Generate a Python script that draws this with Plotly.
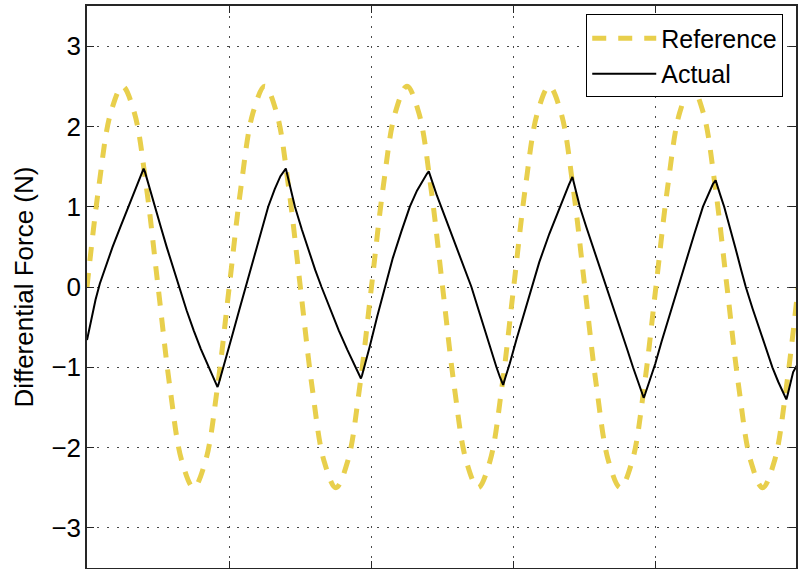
import plotly.graph_objects as go

# ---------------- data ----------------
# Reference signal: time samples (s) and force (N)
ref_time = [
    0.000, 0.083, 0.167, 0.250, 0.333, 0.417, 0.500, 0.583, 0.667, 0.750, 0.833, 0.917,
    1.000, 1.083, 1.167, 1.250, 1.333, 1.417, 1.500, 1.583, 1.667, 1.750, 1.833, 1.917,
    2.000, 2.083, 2.167, 2.250, 2.333, 2.417, 2.500, 2.583, 2.667, 2.750, 2.833, 2.917,
    3.000, 3.083, 3.167, 3.250, 3.333, 3.417, 3.500, 3.583, 3.667, 3.750, 3.833, 3.917,
    4.000, 4.083, 4.167, 4.250, 4.333, 4.417, 4.500, 4.583, 4.667, 4.750, 4.833, 4.917,
    5.000,
]
ref_force = [
    0.00, 1.25, 2.17, 2.50, 2.17, 1.25, 0.00, -1.25, -2.17, -2.50, -2.17, -1.25,
    0.00, 1.25, 2.17, 2.50, 2.17, 1.25, 0.00, -1.25, -2.17, -2.50, -2.17, -1.25,
    0.00, 1.25, 2.17, 2.50, 2.17, 1.25, 0.00, -1.25, -2.17, -2.50, -2.17, -1.25,
    0.00, 1.25, 2.17, 2.50, 2.17, 1.25, 0.00, -1.25, -2.17, -2.50, -2.17, -1.25,
    0.00, 1.25, 2.17, 2.50, 2.17, 1.25, 0.00, -1.25, -2.17, -2.50, -2.17, -1.25,
    0.00,
]

act_time = [
    # cycle 1
    0.000, 0.030, 0.060, 0.090, 0.130, 0.180, 0.235, 0.290, 0.335, 0.370, 0.390, 0.398,
    0.408, 0.425, 0.450, 0.478, 0.520, 0.560, 0.600, 0.645, 0.700, 0.750, 0.800, 0.857,
    0.890, 0.912, 0.918,
    # cycle 2
    0.925, 0.940, 0.970, 1.020, 1.070, 1.115, 1.160, 1.210, 1.274, 1.320, 1.360, 1.398,
    1.406, 1.420, 1.440, 1.462, 1.510, 1.560, 1.605, 1.649, 1.710, 1.770, 1.830, 1.888,
    1.912, 1.926,
    # cycle 3
    1.934, 1.950, 1.988, 2.040, 2.094, 2.150, 2.210, 2.270, 2.320, 2.360, 2.390, 2.403,
    2.412, 2.430, 2.460, 2.490, 2.545, 2.600, 2.650, 2.703, 2.745, 2.790, 2.835, 2.879,
    2.905, 2.920, 2.926,
    # cycle 4
    2.934, 2.950, 2.973, 3.020, 3.070, 3.125, 3.180, 3.250, 3.324, 3.360, 3.390, 3.405, 3.413,
    3.420, 3.440, 3.465, 3.510, 3.560, 3.605, 3.652, 3.700, 3.745, 3.795, 3.839,
    3.880, 3.905, 3.914,
    # cycle 5
    3.925, 3.945, 3.970, 3.995, 4.040, 4.100, 4.155, 4.210, 4.270, 4.331, 4.370, 4.400, 4.420,
    4.428, 4.450, 4.480, 4.520, 4.560, 4.600, 4.632, 4.680, 4.730, 4.775, 4.819,
    4.860, 4.895, 4.917,
    # tail
    4.925, 4.945, 4.965, 4.990,
]
act_force = [
    # cycle 1
    -0.66, -0.40, -0.16, 0.04, 0.25, 0.50, 0.75, 1.00, 1.20, 1.35, 1.44, 1.475,
    1.43, 1.33, 1.17, 1.00, 0.74, 0.50, 0.27, 0.00, -0.29, -0.54, -0.77, -1.00,
    -1.13, -1.22, -1.246,
    # cycle 2
    -1.21, -1.12, -0.93, -0.61, -0.29, 0.00, 0.29, 0.60, 1.00, 1.22, 1.38, 1.475,
    1.42, 1.31, 1.16, 1.00, 0.72, 0.44, 0.21, 0.00, -0.28, -0.54, -0.78, -1.00,
    -1.09, -1.14,
    # cycle 3
    -1.10, -1.00, -0.74, -0.37, 0.00, 0.36, 0.69, 1.00, 1.20, 1.33, 1.41, 1.44,
    1.39, 1.29, 1.14, 1.00, 0.74, 0.48, 0.25, 0.00, -0.24, -0.50, -0.76, -1.00,
    -1.13, -1.20, -1.22,
    # cycle 4
    -1.17, -1.08, -0.95, -0.65, -0.34, 0.00, 0.31, 0.66, 1.00, 1.15, 1.28, 1.34, 1.37,
    1.32, 1.18, 1.00, 0.75, 0.49, 0.25, 0.00, -0.26, -0.50, -0.76, -1.00,
    -1.21, -1.34, -1.38,
    # cycle 5
    -1.33, -1.23, -1.10, -0.96, -0.68, -0.33, 0.00, 0.33, 0.66, 1.00, 1.17, 1.28, 1.33,
    1.29, 1.16, 1.00, 0.75, 0.48, 0.21, 0.00, -0.27, -0.54, -0.78, -1.00,
    -1.18, -1.32, -1.40,
    # tail
    -1.35, -1.20, -1.06, -0.98,
]

series_names = ["Reference", "Actual"]
y_ticks = [-3, -2, -1, 0, 1, 2, 3]
x_ticks = [0, 1, 2, 3, 4, 5]
y_title = "Differential Force (N)"

# ---------------- figure ----------------
FONT = "Liberation Sans, Arial, Helvetica, sans-serif"
AXIS_COLOR = "#262626"

fig = go.Figure()
fig.add_trace(go.Scatter(
    x=ref_time, y=ref_force, name=series_names[0], mode="lines",
    line=dict(color="rgb(232,207,76)", width=5, dash="14px,12px", shape="spline", smoothing=1.0),
))
fig.add_trace(go.Scatter(
    x=act_time, y=act_force, name=series_names[1], mode="lines",
    line=dict(color="black", width=2),
))

axis_common = dict(
    showline=True, linecolor=AXIS_COLOR, linewidth=1.5, mirror="ticks",
    ticks="inside", ticklen=7, tickwidth=1.2, tickcolor=AXIS_COLOR,
    showgrid=True, gridcolor="#4a4a4a", gridwidth=1.2, griddash="1.5px,8.5px",
    zeroline=False,
)

fig.update_layout(
    width=798, height=569,
    margin=dict(l=87, r=0, t=6, b=1),
    paper_bgcolor="white", plot_bgcolor="white",
    font=dict(family=FONT, size=26, color="black"),
    showlegend=True,
    legend=dict(
        x=0.982, y=0.985, xanchor="right", yanchor="top",
        bgcolor="white", bordercolor="black", borderwidth=1,
        font=dict(family=FONT, size=25, color="black"),
        itemwidth=64, tracegroupgap=0,
    ),
    xaxis=dict(range=[0, 4.985], tickvals=x_ticks, showticklabels=False, **axis_common),
    yaxis=dict(range=[-3.5, 3.5], tickvals=y_ticks, ticklabelstandoff=-1,
               title=dict(text=y_title, standoff=10, font=dict(family=FONT, size=26)),
               **axis_common),
)

fig.write_html("out.html", config={"displayModeBar": False},
               post_script="document.body.style.margin='0';")
